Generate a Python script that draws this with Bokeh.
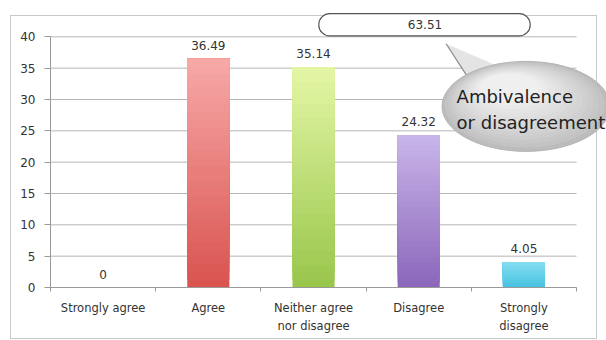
from bokeh.plotting import figure
from bokeh.models import FixedTicker, Range1d
from bokeh.embed import file_html
from bokeh.resources import INLINE
from bokeh.core.properties import value

# ---- data ----
categories = ["Strongly agree", "Agree", "Neither agree\nnor disagree", "Disagree", "Strongly\ndisagree"]
values = [0, 36.49, 35.14, 24.32, 4.05]
value_labels = ["0", "36.49", "35.14", "24.32", "4.05"]
y_ticks = [0, 5, 10, 15, 20, 25, 30, 35, 40]
callout_value = "63.51"
callout_lines = ["Ambivalence", "or disagreement"]

# ---- styles ----
top_colors = ["#ffffff", "#f7a9a8", "#e4f6a6", "#c9b6ea", "#86def2"]
bottom_colors = ["#ffffff", "#d9534f", "#98c64a", "#8b66ba", "#45c1df"]
FONT = value("DejaVu Sans")
TXT = "#333333"
BORDER = "#c8c8c8"


def mix(c1, c2, t):
    a = [int(c1[i:i + 2], 16) for i in (1, 3, 5)]
    b = [int(c2[i:i + 2], 16) for i in (1, 3, 5)]
    return "#%02x%02x%02x" % tuple(round(a[k] + (b[k] - a[k]) * t) for k in range(3))


line = "linear-gradient(%s, %s)" % (BORDER, BORDER)
outer_box = {
    "background-color": "white",
    "background-image": ", ".join([line] * 4),
    "background-position": "10px 15px, 10px 15px, 596px 15px, 10px 338px",
    "background-size": "587px 1px, 1px 324px, 1px 324px, 587px 1px",
    "background-repeat": "no-repeat",
}

p = figure(width=606, height=340, output_backend="svg", toolbar_location=None,
           x_range=Range1d(0, 5.285), y_range=Range1d(0, 45),
           min_border_left=50, min_border_right=0, min_border_top=5, min_border_bottom=53,
           styles=outer_box)
p.outline_line_color = None
p.xgrid.visible = False
p.ygrid.visible = False
p.background_fill_color = None
p.border_fill_color = None

n_cat = len(categories)

# gridlines
p.segment(x0=[0] * len(y_ticks), x1=[n_cat] * len(y_ticks), y0=y_ticks, y1=y_ticks,
          line_color="#b5b5b5", line_width=1)

# bars with vertical gradient (overlapping layers, no seams)
N = 30
for i, v in enumerate(values):
    if v <= 0:
        continue
    for k in range(N):
        t = (k + 0.5) / N
        p.vbar(x=[i + 0.5], width=0.4, bottom=[v * k / N], top=[v],
               fill_color=mix(bottom_colors[i], top_colors[i], t), line_color=None)

# value labels
p.text(x=[i + 0.5 for i in range(n_cat)], y=values, text=value_labels, y_offset=-9,
       text_align="center", text_baseline="bottom", text_font=FONT,
       text_font_size="12px", text_color=TXT)

# callout: bubble tail + shaded ellipse
p.patch(x=[3.76, 3.98, 4.30], y=[38.9, 33.2, 35.0], fill_color="#e4e4e4", line_color=None)
p.segment(x0=[3.76], y0=[38.9], x1=[3.98], y1=[33.2], line_color="#8a8a8a", line_width=1.2)
M = 14
for k in range(M):
    t = k / (M - 1)
    p.ellipse(x=[4.52 - 0.16 * t], y=[28.9 + 3.0 * t], width=[168 - 110 * t],
              height=[90 - 62 * t], width_units="screen", height_units="screen",
              fill_color=mix("#bcbcbc", "#efefef", t ** 0.8),
              line_color="#b4b4b4" if k == 0 else None)
p.text(x=[3.86, 3.86], y=[30.4, 26.4], text=callout_lines, text_align="left",
       text_baseline="middle", text_font=FONT, text_font_size="18px", text_color="#222222")

# callout: rounded box with total
p.quad(left=[2.55], right=[4.56], bottom=[40.15], top=[43.7], border_radius=11,
       fill_color="white", line_color="#555555", line_width=1.2)
p.text(x=[3.56], y=[41.95], text=[callout_value], text_align="center",
       text_baseline="middle", text_font=FONT, text_font_size="12px", text_color=TXT)

# axes
xa = p.xaxis[0]
xa.ticker = FixedTicker(ticks=[i + 0.5 for i in range(n_cat)],
                        minor_ticks=list(range(n_cat + 1)))
xa.major_label_overrides = {i + 0.5: c for i, c in enumerate(categories)}
xa.bounds = (0, n_cat)
xa.major_tick_line_color = None
xa.minor_tick_in = 0
xa.minor_tick_out = 4
xa.minor_tick_line_color = "#999999"
xa.axis_line_color = "#999999"
xa.major_label_standoff = 7
xa.major_label_text_font = "DejaVu Sans"
xa.major_label_text_font_size = "11.5px"
xa.major_label_text_color = TXT
xa.major_label_text_line_height = 1.3

ya = p.yaxis[0]
ya.ticker = FixedTicker(ticks=y_ticks, minor_ticks=[])
ya.bounds = (0, 40)
ya.major_tick_in = 0
ya.major_tick_out = 6
ya.major_tick_line_color = "#999999"
ya.axis_line_color = "#999999"
ya.major_label_standoff = 9
ya.major_label_text_font = "DejaVu Sans"
ya.major_label_text_font_size = "12px"
ya.major_label_text_color = TXT

open("out.html", "w").write(file_html(p, INLINE))
